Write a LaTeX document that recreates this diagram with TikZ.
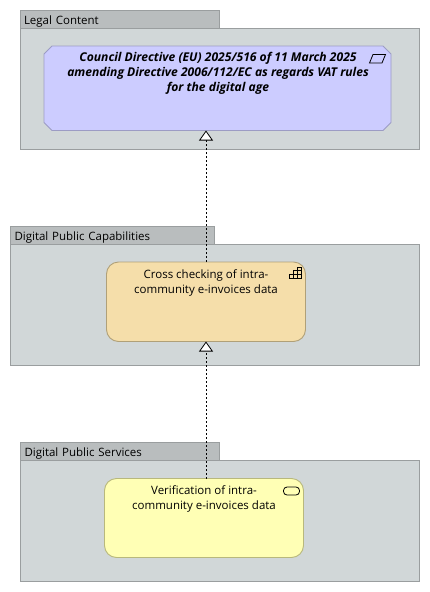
\documentclass[tikz,border=0pt]{standalone}
\usepackage{fontspec}
\setmainfont{Open Sans}
\usetikzlibrary{arrows.meta,positioning,calc}
\definecolor{Ink}{HTML}{000000}
\definecolor{Frame}{HTML}{9A9E9F}
\definecolor{GroupFill}{HTML}{D1D7D8}
\definecolor{TabFill}{HTML}{B9BDBE}
\definecolor{Lilac}{HTML}{CCCCFF}
\definecolor{LilacLine}{HTML}{9C9CC4}
\definecolor{Sand}{HTML}{F5DEAA}
\definecolor{SandLine}{HTML}{B0A078}
\definecolor{Lemon}{HTML}{FFFFB5}
\definecolor{LemonLine}{HTML}{B8B87C}
\tikzset{
  grouptab/.style={draw=Frame,fill=TabFill,line width=0.9pt,minimum height=18pt,inner xsep=4pt,inner ysep=0pt,outer sep=0pt,anchor=north west,text width=#1-8pt,minimum width=#1,align=left,text height=10pt,text depth=0pt},
  groupbody/.style n args={2}{draw=Frame,fill=GroupFill,line width=0.9pt,minimum width=#1,minimum height=#2,anchor=north west,inner sep=0pt,outer sep=0pt},
  motivation/.style={minimum width=347pt,minimum height=84.5pt,anchor=north west,inner sep=0pt,outer sep=0pt},
  motivationline/.style={draw=LilacLine,fill=Lilac,line width=0.9pt},
  capability/.style={rounded corners=12pt,draw=SandLine,fill=Sand,line width=0.9pt,minimum width=199pt,minimum height=79.5pt,anchor=north west,inner sep=0pt,outer sep=0pt},
  service/.style={rounded corners=12pt,draw=LemonLine,fill=Lemon,line width=0.9pt,minimum width=199pt,minimum height=79pt,anchor=north west,inner sep=0pt,outer sep=0pt},
  boxtext/.style={anchor=north,align=center,inner sep=0pt,font=\fontsize{11.5}{15}\selectfont},
  realizes/.style={-{Triangle[fill=white,length=10pt,width=14pt]},dash pattern=on 2pt off 2pt,line width=0.8pt,Ink},
  icon/.style={line width=0.8pt,Ink}
}
\begin{document}
\begin{tikzpicture}[x=1pt,y=-1pt,every node/.style={font=\fontsize{11.5}{15}\selectfont}]
      \useasboundingbox (0,0) rectangle (430,592);
      % Legal Content
      \node[grouptab=199.5pt] (legaltab) at (20,10.5) {Legal Content};
      \node[groupbody={399.5pt}{120.5pt}] (legalgroup) at (20,28.5) {};
      \node[motivation] (directive) at (44,46) {};
      \draw[motivationline] ($(directive.north west)+(8,0)$) -- ($(directive.north east)+(-8,0)$) -- ($(directive.north east)+(0,8)$)
        -- ($(directive.south east)+(0,-8)$) -- ($(directive.south east)+(-8,0)$) -- ($(directive.south west)+(8,0)$)
        -- ($(directive.south west)+(0,-8)$) -- ($(directive.north west)+(0,8)$) -- cycle;
      \node[boxtext,font=\fontsize{12.1}{15}\selectfont\bfseries\itshape] (directivetext) at (218,52) {
        Council Directive (EU) 2025/516 of 11 March 2025\\
        amending Directive 2006/112/EC as regards VAT rules\\
        for the digital age
      };
      \draw[icon] (373,54.5) -- (385.5,54.5) -- (382,63) -- (369.5,63) -- cycle;

      % Digital Public Capabilities
      \node[grouptab=204pt] (captab) at (10.5,226) {Digital Public Capabilities};
      \node[groupbody={409pt}{120.5pt}] (capgroup) at (10.5,244.5) {};
      \node[capability] (crosscheck) at (106.5,262) {};
      \node[boxtext] (crosschecktext) at (206,269) {
        Cross checking of intra-\\
        community e-invoices data
      };
      \draw[icon] (289.5,278.5) -- (289.5,274.5) -- (293.5,274.5) -- (293.5,270.5) -- (297.5,270.5) -- (297.5,267) -- (301.5,267) -- (301.5,278.5) -- cycle
        (293.5,278.5) -- (293.5,274.5) -- (301.5,274.5) (297.5,278.5) -- (297.5,270.5) -- (301.5,270.5);

      % Digital Public Services
      \node[grouptab=199pt] (servtab) at (20.5,442) {Digital Public Services};
      \node[groupbody={399pt}{120.5pt}] (servgroup) at (20.5,460.5) {};
      \node[service] (verify) at (104.5,478.5) {};
      \node[boxtext] (verifytext) at (204,485) {
        Verification of intra-\\
        community e-invoices data
      };
      \draw[icon,rounded corners=3.5pt] (283.5,487) rectangle (299.5,495);

      \draw[realizes] (crosscheck.north) -- (crosscheck.north |- directive.south);
      \draw[realizes] (crosscheck.south |- verify.north) -- (crosscheck.south);
    \end{tikzpicture}
\end{document}
